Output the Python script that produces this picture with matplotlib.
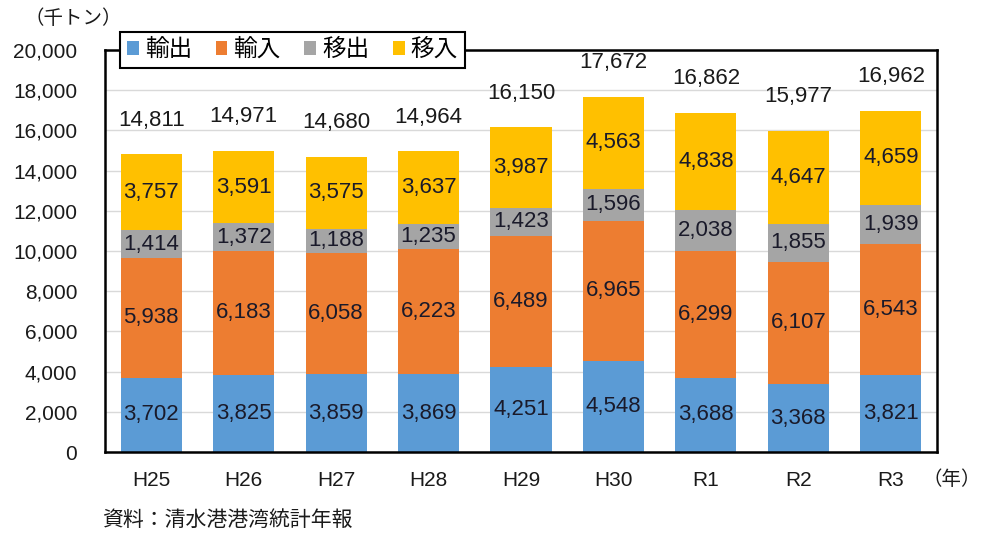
import matplotlib
matplotlib.use("Agg")
import matplotlib.pyplot as plt
import numpy as np

years = ["H25", "H26", "H27", "H28", "H29", "H30", "R1", "R2", "R3"]
export = [3702, 3825, 3859, 3869, 4251, 4548, 3688, 3368, 3821]
imports = [5938, 6183, 6058, 6223, 6489, 6965, 6299, 6107, 6543]
move_out = [1414, 1372, 1188, 1235, 1423, 1596, 2038, 1855, 1939]
move_in = [3757, 3591, 3575, 3637, 3987, 4563, 4838, 4647, 4659]
totals = [14811, 14971, 14680, 14964, 16150, 17672, 16862, 15977, 16962]
series_names = ["輸出", "輸入", "移出", "移入"]
colors = ["#5B9BD5", "#ED7D31", "#A5A5A5", "#FFC000"]

FAM = ["Liberation Sans", "Noto Sans CJK JP", "DejaVu Sans"]
plt.rcParams['font.family'] = FAM

fig = plt.figure(figsize=(9.86, 5.36), dpi=100)
ax = fig.add_axes([0.1065, 0.1567, 0.8438, 0.75])

x = np.arange(len(years))
width = 0.66
bottom = np.zeros(len(years))
for vals, name, c in zip([export, imports, move_out, move_in], series_names, colors):
    vals = np.array(vals, dtype=float)
    ax.bar(x, vals, width, bottom=bottom, color=c, label=name, zorder=2)
    for xi, b, v in zip(x, bottom, vals):
        ax.text(xi, b + v / 2, f"{int(v):,}", ha="center", va="center",
                fontsize=16, color="#1a1a2a", zorder=3)
    bottom += vals

for xi, t, b in zip(x, totals, bottom):
    ax.text(xi, b + 1700, f"{t:,}", ha="center", va="center", fontsize=16,
            color="#1a1a1a")

ax.set_ylim(0, 20000)
ax.set_xlim(-0.5, len(years) - 0.5)
ax.set_yticks(np.arange(0, 20001, 2000))
ax.set_yticklabels([f"{v:,}" for v in range(0, 20001, 2000)])
ax.set_xticks(x)
ax.set_xticklabels(years)
ax.tick_params(axis="both", length=0, labelsize=15, colors="#1a1a1a")
ax.tick_params(axis="y", pad=20)
ax.tick_params(axis="x", pad=14)
ax.grid(axis="y", color="#d9d9d9", linewidth=1, zorder=0)
ax.set_axisbelow(True)
for s in ax.spines.values():
    s.set_color("black")
    s.set_linewidth(1.8)

leg = ax.legend(loc="center left", bbox_to_anchor=(0.018, 1.0), ncol=4,
                fontsize=17, frameon=True, fancybox=False, handlelength=0.5,
                handleheight=0.5, handletextpad=0.25, columnspacing=1.0,
                borderpad=0.3, borderaxespad=0)
leg.get_frame().set_edgecolor("black")
leg.get_frame().set_linewidth(1.5)
leg.get_frame().set_alpha(1)

fig.text(0.025, 0.966, "（千トン）", fontsize=14, color="#1a1a1a", va="center", ha="left")
fig.text(0.995, 0.105, "（年）", fontsize=14, color="#1a1a1a", va="center", ha="right")
fig.text(0.104, 0.03, "資料：清水港港湾統計年報", fontsize=15, color="#1a1a1a",
         va="center", ha="left")

fig.savefig("out.png", dpi=100)
